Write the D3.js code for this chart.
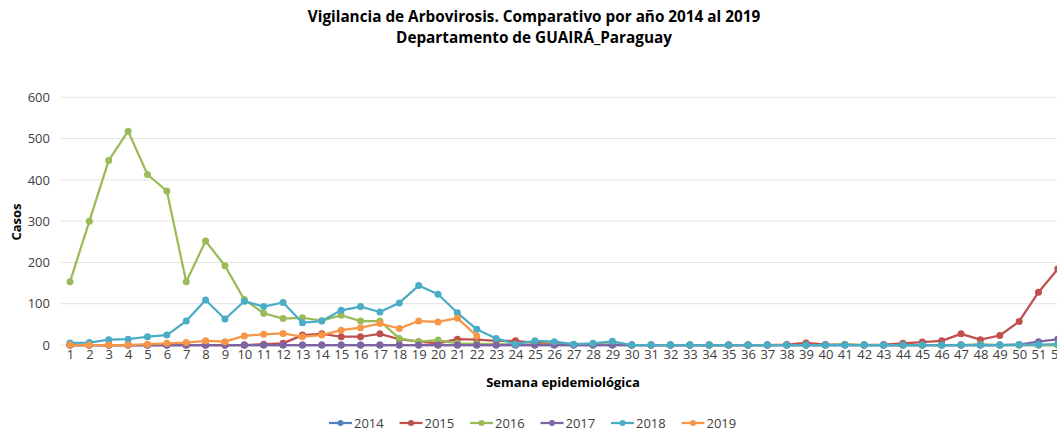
<!DOCTYPE html>
<html>
<head>
<meta charset="utf-8">
<script src="https://cdn.jsdelivr.net/npm/d3@7"></script>
<style>
  body { margin: 0; background: #fff; }
  svg { font-family: "Open Sans", "Noto Sans", sans-serif; }
</style>
</head>
<body>
<svg id="chart" width="1057" height="432"></svg>
<script>
// Weeks and yearly series (cases per epidemiological week)
var weeks = d3.range(1, 53);
var years = ["2014", "2015", "2016", "2017", "2018", "2019"];
var colors = ["#4F81BD", "#C0504D", "#9BBB59", "#8064A2", "#4BACC6", "#F79646"];
var yTicks = [0, 100, 200, 300, 400, 500, 600];

var cases2014 = [0,0,0,0,0,0,0,0,0,0, 0,0,0,0,0,0,0,0,0,0, 0,0,0,0,0,0,0,0,0,0,
                 0,0,0,0,0,0,0,0,0,0, 0,0,0,0,0,0,0,0,0,0, 0,0];
var cases2015 = [0,0,0,0,0,0,0,0,0,0, 2,4,24,27,20,20,27,14,8,4, 14,13,10,10,5,3,1,1,1,0,
                 0,0,0,0,0,0,0,1,5,1, 1,0,1,4,7,10,27,13,23,57, 128,184];
var cases2016 = [153,300,447,518,413,373,153,252,192,110, 77,64,66,59,72,58,58,16,8,12,
                 4,3,2,1,1,1,1,1,1,0, 0,0,0,0,0,0,0,0,0,0, 2,0,0,0,0,0,0,2,0,0, 0,0];
var cases2017 = [0,0,0,0,0,0,0,0,0,0, 0,0,0,0,0,0,0,0,0,0, 0,0,0,0,0,0,0,0,0,0,
                 0,0,0,0,0,0,0,0,0,0, 0,0,0,0,0,0,0,0,0,1, 8,14];
var cases2018 = [5,6,13,14,20,24,58,109,63,106, 93,103,54,58,84,93,80,102,144,123,
                 78,38,16,2,10,8,2,4,9,0, 0,0,0,0,0,0,0,0,0,0, 0,0,0,0,0,0,0,0,0,1, 1,2];
var cases2019 = [0,0,0,0,2,4,6,10,8,22, 26,28,20,24,36,42,52,40,58,56, 65,22];

var series = [cases2014, cases2015, cases2016, cases2017, cases2018, cases2019];

var svg = d3.select("#chart");

// Scales
var x = d3.scalePoint().domain(weeks).range([70, 70 + 51 * 19.37]);
var y = d3.scaleLinear().domain([0, 600]).range([345, 97.3]);

// Title (two lines)
var titleLines = ["Vigilancia de Arbovirosis. Comparativo por año 2014 al 2019",
                  "Departamento de GUAIRÁ_Paraguay"];
svg.append("g")
    .selectAll("text")
    .data(titleLines)
    .join("text")
    .attr("x", 534)
    .attr("y", (d, i) => 22 + i * 21)
    .attr("text-anchor", "middle")
    .attr("font-weight", "bold")
    .attr("font-size", 15.3)
    .attr("fill", "#000")
    .text(d => d);

// Gridlines
svg.append("g")
    .selectAll("line")
    .data(yTicks)
    .join("line")
    .attr("x1", 61).attr("x2", 1070)
    .attr("y1", d => y(d)).attr("y2", d => y(d))
    .attr("stroke", "#e3e3e3")
    .attr("stroke-width", 1);

// Y axis labels
var yAxis = svg.append("g")
    .attr("transform", "translate(50,0)")
    .call(d3.axisLeft(y).tickValues(yTicks).tickSize(0).tickPadding(0));
yAxis.select(".domain").remove();
yAxis.selectAll("text").attr("font-size", 13).attr("fill", "#404040")
    .attr("font-family", "Open Sans");

// X axis labels
var xAxis = svg.append("g")
    .attr("transform", "translate(0,347)")
    .call(d3.axisBottom(x).tickSize(0).tickPadding(3));
xAxis.select(".domain").remove();
xAxis.selectAll("text").attr("font-size", 13).attr("fill", "#404040")
    .attr("font-family", "Open Sans");

// Axis titles
svg.append("text")
    .attr("transform", "translate(21,222) rotate(-90)")
    .attr("text-anchor", "middle")
    .attr("font-weight", "bold")
    .attr("font-size", 13)
    .text("Casos");

svg.append("text")
    .attr("x", 563).attr("y", 387)
    .attr("text-anchor", "middle")
    .attr("font-weight", "bold")
    .attr("font-size", 13)
    .text("Semana epidemiológica");

// Lines and markers
var line = d3.line()
    .x((d, i) => x(weeks[i]))
    .y(d => y(d));

series.forEach((vals, k) => {
    var g = svg.append("g");
    g.append("path")
        .datum(vals)
        .attr("d", line)
        .attr("fill", "none")
        .attr("stroke", colors[k])
        .attr("stroke-width", 2.25)
        .attr("stroke-linejoin", "round");
    g.selectAll("circle")
        .data(vals)
        .join("circle")
        .attr("cx", (d, i) => x(weeks[i]))
        .attr("cy", d => y(d))
        .attr("r", 3.5)
        .attr("fill", colors[k]);
});

// Legend
var legend = svg.append("g")
    .selectAll("g")
    .data(years)
    .join("g")
    .attr("transform", (d, i) => `translate(${329 + i * 70.5},423)`);
legend.append("line")
    .attr("x1", 0).attr("x2", 23)
    .attr("stroke", (d, i) => colors[i])
    .attr("stroke-width", 2.25);
legend.append("circle")
    .attr("cx", 11.5).attr("r", 3)
    .attr("fill", (d, i) => colors[i]);
legend.append("text")
    .attr("x", 25).attr("dy", "0.35em")
    .attr("font-size", 13)
    .attr("fill", "#404040")
    .text(d => d);
</script>
</body>
</html>
